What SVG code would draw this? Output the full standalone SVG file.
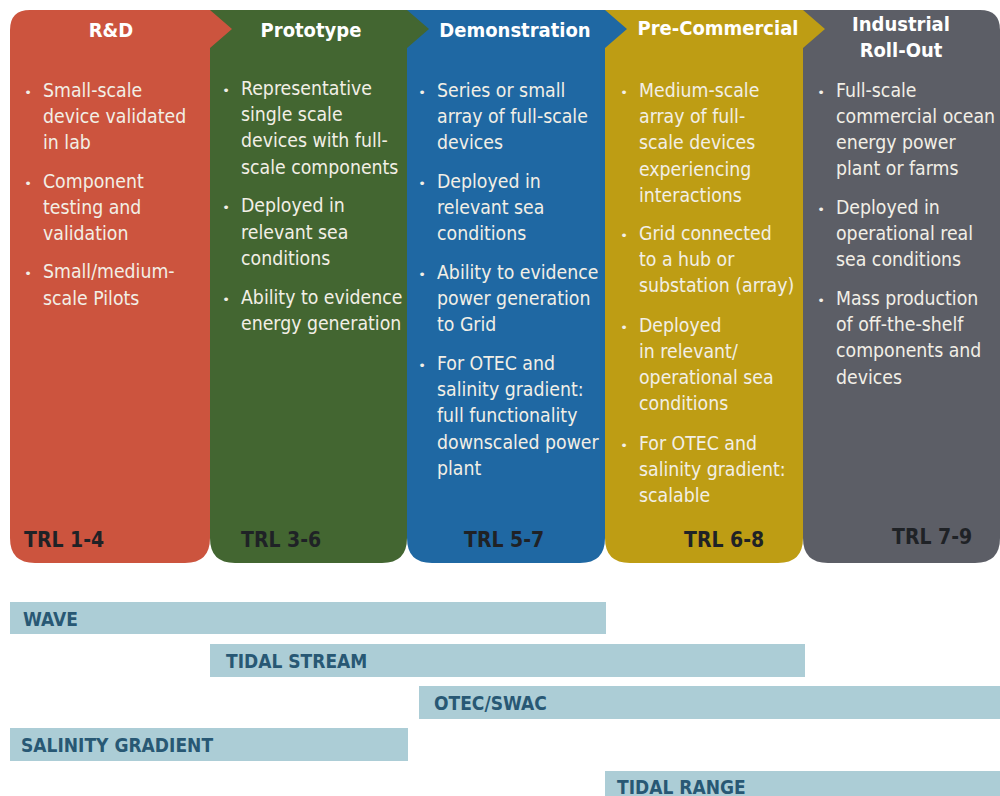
<svg xmlns="http://www.w3.org/2000/svg" width="1000" height="796" viewBox="0 0 1000 796">
<style>
.hd{font-family:"DejaVu Sans Condensed","DejaVu Sans",sans-serif;font-stretch:condensed;font-weight:bold;font-size:20px;fill:#ffffff;text-anchor:middle}
.bd{font-family:"DejaVu Sans Condensed","DejaVu Sans",sans-serif;font-stretch:condensed;font-size:19.3px;fill:#F2EFE6}
.bl{font-family:"DejaVu Sans",sans-serif;font-size:13px;fill:#F2EFE6;text-anchor:middle}
.trl{font-family:"DejaVu Sans Condensed","DejaVu Sans",sans-serif;font-stretch:condensed;font-weight:bold;font-size:21px;fill:#1F2226}
.bar{fill:#ACCDD6}
.bt{font-family:"DejaVu Sans Condensed","DejaVu Sans",sans-serif;font-stretch:condensed;font-weight:bold;font-size:19px;fill:#285874}
</style>
<rect width="1000" height="796" fill="#ffffff"/>

<g id="industrial">
<path d="M803,10 L980,10 Q1000,10 1000,30 L1000,538 Q1000,563 975,563 L828,563 Q803,563 803,538 Z" fill="#5C5E66"/>
<text class="hd" x="901" y="31">Industrial</text>
<text class="hd" x="901" y="57">Roll-Out</text>
<text class="bl" x="821" y="97">•</text>
<text class="bd" x="836" y="97">Full-scale</text>
<text class="bd" x="836" y="123">commercial ocean</text>
<text class="bd" x="836" y="149">energy power</text>
<text class="bd" x="836" y="175">plant or farms</text>
<text class="bl" x="821" y="214">•</text>
<text class="bd" x="836" y="214">Deployed in</text>
<text class="bd" x="836" y="240">operational real</text>
<text class="bd" x="836" y="266">sea conditions</text>
<text class="bl" x="821" y="305">•</text>
<text class="bd" x="836" y="305">Mass production</text>
<text class="bd" x="836" y="331">of off-the-shelf</text>
<text class="bd" x="836" y="357">components and</text>
<text class="bd" x="836" y="384">devices</text>
<text class="trl" x="892" y="544">TRL 7-9</text>
</g>

<g id="precommercial">
<path d="M605,10 L803,10 L825,29 L803,48 L803,538 Q803,563 778,563 L630,563 Q605,563 605,538 Z" fill="#BE9D14"/>
<text class="hd" x="718" y="35">Pre-Commercial</text>
<text class="bl" x="624" y="97">•</text>
<text class="bd" x="639" y="97">Medium-scale</text>
<text class="bd" x="639" y="123">array of full-</text>
<text class="bd" x="639" y="149">scale devices</text>
<text class="bd" x="639" y="176">experiencing</text>
<text class="bd" x="639" y="202">interactions</text>
<text class="bl" x="624" y="240">•</text>
<text class="bd" x="639" y="240">Grid connected</text>
<text class="bd" x="639" y="266">to a hub or</text>
<text class="bd" x="639" y="292">substation (array)</text>
<text class="bl" x="624" y="332">•</text>
<text class="bd" x="639" y="332">Deployed</text>
<text class="bd" x="639" y="358">in relevant/</text>
<text class="bd" x="639" y="384">operational sea</text>
<text class="bd" x="639" y="410">conditions</text>
<text class="bl" x="624" y="450">•</text>
<text class="bd" x="639" y="450">For OTEC and</text>
<text class="bd" x="639" y="476">salinity gradient:</text>
<text class="bd" x="639" y="502">scalable</text>
<text class="trl" x="684" y="547">TRL 6-8</text>
</g>

<g id="demonstration">
<path d="M407,10 L605,10 L627,29 L605,48 L605,538 Q605,563 580,563 L432,563 Q407,563 407,538 Z" fill="#1F68A3"/>
<text class="hd" x="515" y="37">Demonstration</text>
<text class="bl" x="422" y="97">•</text>
<text class="bd" x="437" y="97">Series or small</text>
<text class="bd" x="437" y="123">array of full-scale</text>
<text class="bd" x="437" y="149">devices</text>
<text class="bl" x="422" y="188">•</text>
<text class="bd" x="437" y="188">Deployed in</text>
<text class="bd" x="437" y="214">relevant sea</text>
<text class="bd" x="437" y="240">conditions</text>
<text class="bl" x="422" y="279">•</text>
<text class="bd" x="437" y="279">Ability to evidence</text>
<text class="bd" x="437" y="305">power generation</text>
<text class="bd" x="437" y="331">to Grid</text>
<text class="bl" x="422" y="370">•</text>
<text class="bd" x="437" y="370">For OTEC and</text>
<text class="bd" x="437" y="396">salinity gradient:</text>
<text class="bd" x="437" y="422">full functionality</text>
<text class="bd" x="437" y="449">downscaled power</text>
<text class="bd" x="437" y="475">plant</text>
<text class="trl" x="464" y="547">TRL 5-7</text>
</g>

<g id="prototype">
<path d="M210,10 L407,10 L429,29 L407,48 L407,538 Q407,563 382,563 L235,563 Q210,563 210,538 Z" fill="#436631"/>
<text class="hd" x="311" y="37">Prototype</text>
<text class="bl" x="226" y="95">•</text>
<text class="bd" x="241" y="95">Representative</text>
<text class="bd" x="241" y="121">single scale</text>
<text class="bd" x="241" y="147">devices with full-</text>
<text class="bd" x="241" y="174">scale components</text>
<text class="bl" x="226" y="212">•</text>
<text class="bd" x="241" y="212">Deployed in</text>
<text class="bd" x="241" y="239">relevant sea</text>
<text class="bd" x="241" y="265">conditions</text>
<text class="bl" x="226" y="304">•</text>
<text class="bd" x="241" y="304">Ability to evidence</text>
<text class="bd" x="241" y="330">energy generation</text>
<text class="trl" x="241" y="547">TRL 3-6</text>
</g>

<g id="rnd">
<path d="M10,30 Q10,10 30,10 L210,10 L232,29 L210,48 L210,538 Q210,563 185,563 L35,563 Q10,563 10,538 Z" fill="#CC543E"/>
<text class="hd" x="111" y="37">R&amp;D</text>
<text class="bl" x="28" y="97">•</text>
<text class="bd" x="43" y="97">Small-scale</text>
<text class="bd" x="43" y="123">device validated</text>
<text class="bd" x="43" y="149">in lab</text>
<text class="bl" x="28" y="188">•</text>
<text class="bd" x="43" y="188">Component</text>
<text class="bd" x="43" y="214">testing and</text>
<text class="bd" x="43" y="240">validation</text>
<text class="bl" x="28" y="278">•</text>
<text class="bd" x="43" y="278">Small/medium-</text>
<text class="bd" x="43" y="305">scale Pilots</text>
<text class="trl" x="24" y="547">TRL 1-4</text>
</g>

<g id="connectors"/>

<g id="bar-wave">
<rect class="bar" x="10" y="602" width="596" height="32"/>
<text class="bt" x="23" y="626">WAVE</text>
</g>
<g id="bar-tidal-stream">
<rect class="bar" x="210" y="644" width="595" height="33"/>
<text class="bt" x="226" y="668">TIDAL STREAM</text>
</g>
<g id="bar-otec">
<rect class="bar" x="419" y="686" width="581" height="33"/>
<text class="bt" x="434" y="710">OTEC/SWAC</text>
</g>
<g id="bar-salinity">
<rect class="bar" x="10" y="728" width="398" height="33"/>
<text class="bt" x="21" y="752">SALINITY GRADIENT</text>
</g>
<g id="bar-tidal-range">
<rect class="bar" x="605" y="771" width="395" height="30"/>
<text class="bt" x="617" y="794">TIDAL RANGE</text>
</g>
</svg>
